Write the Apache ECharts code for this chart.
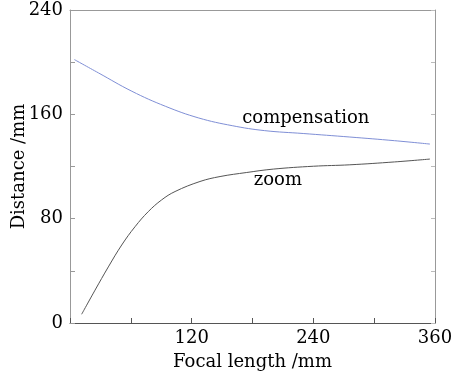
<!DOCTYPE html>
<html><head><meta charset="utf-8">
<script src="https://cdn.jsdelivr.net/npm/echarts@6/dist/echarts.min.js"></script>
<style>html,body{margin:0;padding:0;background:#fff}#c{width:464px;height:377px}</style>
</head><body><div id="c"></div>
<script>
const compX = [4.3, 28, 61, 94, 127, 160, 192, 230, 276, 320, 355];
const compY = [202, 191.8, 177.7, 166.2, 157.2, 151.3, 147.5, 145.3, 142.6, 139.8, 137.2];
const zoomX = [11.5, 24.7, 37.8, 51, 64.1, 77.2, 90.4, 103.6, 128.2, 148, 174.3, 200.5, 240, 276, 320, 355];
const zoomY = [6.7, 25.2, 43, 59.8, 73.8, 85.4, 94.4, 100.8, 108.5, 112.3, 115.4, 118, 120.2, 121.3, 123.5, 125.7];
const xLabels = [120, 240, 360];
const yLabels = [0, 80, 160, 240];
const labelNames = ['compensation', 'zoom'];
const labelX = [232.6, 205];
const labelY = [157, 109.5];

const font = 'DejaVu Serif';
const chart = echarts.init(document.getElementById('c'), null, {renderer: 'canvas'});
const pairs = (xs, ys) => xs.map((x, i) => [x, ys[i]]);
chart.setOption({
  animation: false,
  backgroundColor: '#fff',
  grid: {left: 70, right: 29, top: 10, bottom: 54, containLabel: false, outerBoundsMode: 'none'},
  xAxis: [{
    type: 'value', min: 0, max: 360, interval: 60, position: 'bottom',
    name: 'Focal length /mm', nameLocation: 'middle', nameGap: 30, nameMoveOverlap: false,
    nameTextStyle: {fontFamily: font, fontSize: 18, color: '#000'},
    axisLine: {show: true, onZero: false, lineStyle: {color: '#555', width: 1}},
    axisTick: {show: true, inside: true, length: 5, lineStyle: {color: '#555'}},
    axisLabel: {fontFamily: font, fontSize: 18, color: '#000', margin: 6,
      formatter: v => xLabels.includes(v) ? String(v) : ''},
    splitLine: {show: false}
  }, {
    type: 'value', min: 0, max: 360, interval: 60, position: 'top',
    axisLine: {show: true, onZero: false, lineStyle: {color: '#999', width: 1}},
    axisTick: {show: false}, axisLabel: {show: false}, splitLine: {show: false}
  }],
  yAxis: [{
    type: 'value', min: 0, max: 240, interval: 40, position: 'left',
    name: 'Distance /mm', nameLocation: 'middle', nameGap: 42, nameMoveOverlap: false,
    nameTextStyle: {fontFamily: font, fontSize: 18, color: '#000'},
    axisLine: {show: true, onZero: false, lineStyle: {color: '#999', width: 1}},
    axisTick: {show: true, inside: true, length: 5, lineStyle: {color: '#999'}},
    axisLabel: {fontFamily: font, fontSize: 18, color: '#000', margin: 7,
      formatter: v => yLabels.includes(v) ? String(v) : ''},
    splitLine: {show: false}
  }, {
    type: 'value', min: 0, max: 240, interval: 40, position: 'right',
    axisLine: {show: true, onZero: false, lineStyle: {color: '#999', width: 1}},
    axisTick: {show: true, inside: true, length: 4, lineStyle: {color: '#bbb'}},
    axisLabel: {show: false}, splitLine: {show: false}
  }],
  series: [{
    name: 'compensation', type: 'line', smooth: 0.4, symbol: 'none',
    data: pairs(compX, compY),
    lineStyle: {color: '#7f8fd6', width: 1}
  }, {
    name: 'zoom', type: 'line', smooth: 0.4, symbol: 'none',
    data: pairs(zoomX, zoomY),
    lineStyle: {color: '#555', width: 1}
  }, {
    name: 'labels', type: 'scatter', symbolSize: 1,
    itemStyle: {color: 'rgba(0,0,0,0)'},
    data: labelNames.map((n, i) => ({value: [labelX[i], labelY[i]], name: n})),
    label: {show: true, position: 'inside', formatter: p => p.name,
      fontFamily: font, fontSize: 18, color: '#000', opacity: 1},
    silent: true
  }]
});
</script></body></html>
